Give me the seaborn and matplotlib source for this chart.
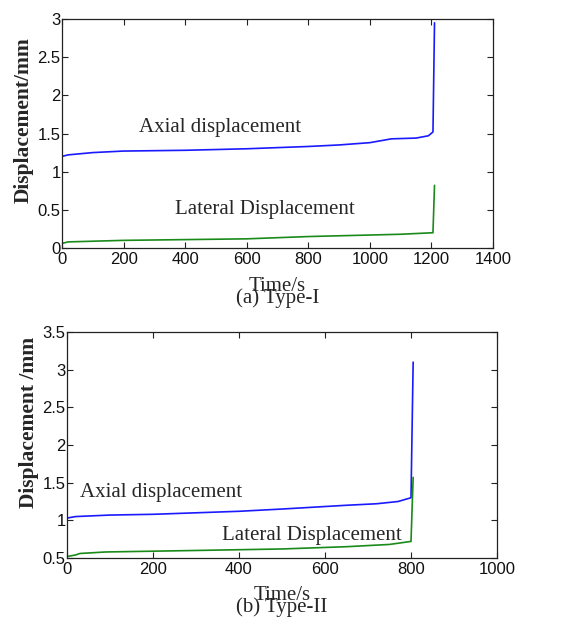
import matplotlib
matplotlib.use("Agg")
import matplotlib.pyplot as plt
import seaborn as sns
import pandas as pd

# Type-I readings
time_a = [0, 20, 100, 200, 400, 600, 800, 900, 1000, 1070, 1150, 1190, 1205, 1210]
axial_a = [1.20, 1.22, 1.25, 1.27, 1.28, 1.30, 1.33, 1.35, 1.38, 1.43, 1.44, 1.47, 1.52, 2.95]
lat_time_a = [0, 20, 200, 400, 600, 800, 1000, 1100, 1205, 1210]
lateral_a = [0.06, 0.08, 0.10, 0.11, 0.12, 0.15, 0.17, 0.18, 0.20, 0.82]

# Type-II readings
time_b = [0, 20, 100, 200, 300, 400, 500, 650, 720, 770, 800, 805]
axial_b = [1.03, 1.05, 1.07, 1.08, 1.10, 1.12, 1.15, 1.20, 1.22, 1.25, 1.30, 3.10]
lat_time_b = [0, 20, 30, 90, 300, 500, 650, 750, 800, 805]
lateral_b = [0.52, 0.54, 0.56, 0.58, 0.60, 0.62, 0.65, 0.68, 0.72, 1.57]

sns.set_style("ticks")
plt.rcParams['font.family'] = ['Liberation Sans', 'DejaVu Sans']
serif = ['Liberation Serif', 'DejaVu Serif']

fig = plt.figure(figsize=(5.84, 6.19), dpi=100)
ax1 = fig.add_axes([62/584, 1 - 248/619, 431/584, 229/619])
ax2 = fig.add_axes([67/584, 1 - 558/619, 430/584, 226/619])


def draw(ax, t, ax_v, lt, lat_v, xmax, ylim, yticks, ylabel, caption, txt_pos, lab_y):
    sns.lineplot(data=pd.DataFrame({"t": t, "v": ax_v}), x="t", y="v",
                 ax=ax, color="#1a1aff", lw=1.2, sort=False)
    sns.lineplot(data=pd.DataFrame({"t": lt, "v": lat_v}), x="t", y="v",
                 ax=ax, color="#1a8a1a", lw=1.2, sort=False)
    ax.set_xlim(0, xmax)
    ax.set_ylim(*ylim)
    ax.set_yticks(yticks)
    ax.set_yticklabels([f"{v:g}" for v in yticks])
    ax.tick_params(direction="in", top=True, right=True, length=4,
                   labelsize=12, pad=1, color="#222222", labelcolor="#111111")
    ax.tick_params(axis="x", pad=3)
    for s in ax.spines.values():
        s.set_linewidth(0.9)
        s.set_color("#222222")
    ax.set_xlabel("Time/s", family=serif, fontsize=15, va="center")
    ax.xaxis.set_label_coords(0.5, lab_y[0])
    ax.set_ylabel(ylabel, family=serif, fontsize=15.5, fontweight="bold", va="center")
    ax.yaxis.set_label_coords(-0.088, lab_y[2])
    ax.text(txt_pos[0][0], txt_pos[0][1], "Axial displacement", family=serif,
            fontsize=15, ha="center", va="center")
    ax.text(txt_pos[1][0], txt_pos[1][1], "Lateral Displacement", family=serif,
            fontsize=15, ha="center", va="center")
    ax.text(0.5, lab_y[1], caption, transform=ax.transAxes, family=serif,
            fontsize=15, ha="center", va="center")


draw(ax1, time_a, axial_a, lat_time_a, lateral_a, 1400, (0, 3),
     [0, 0.5, 1, 1.5, 2, 2.5, 3], "Displacement/mm", "(a) Type-I",
     [(513, 1.585), (659, 0.50)], (-0.170, -0.217, 0.56))
draw(ax2, time_b, axial_b, lat_time_b, lateral_b, 1000, (0.5, 3.5),
     [0.5, 1, 1.5, 2, 2.5, 3, 3.5], "Displacement /mm", "(b) Type-II",
     [(219, 1.376), (570, 0.805)], (-0.164, -0.217, 0.60))

fig.savefig("out.png", dpi=100)
